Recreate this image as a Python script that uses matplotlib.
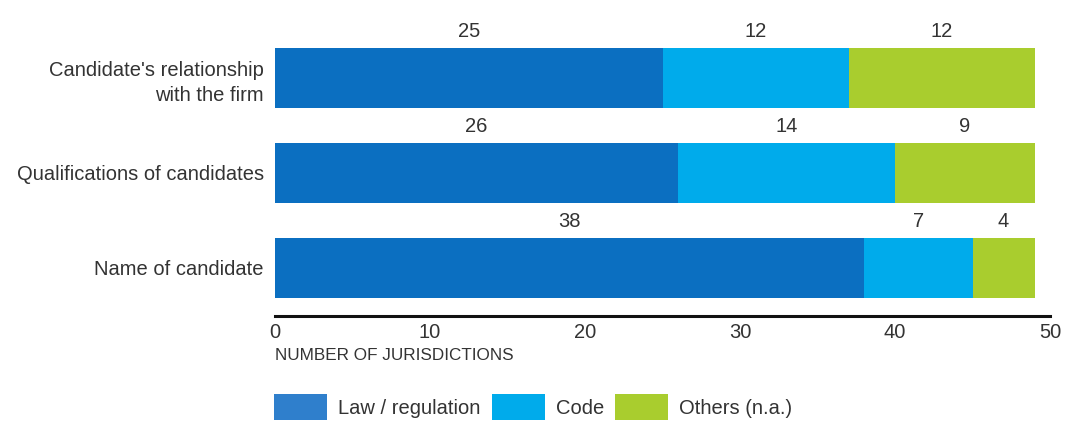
import matplotlib
matplotlib.use("Agg")
import matplotlib.pyplot as plt
from matplotlib.patches import Patch
import numpy as np

categories = ["Name of candidate", "Qualifications of candidates", "Candidate's relationship\nwith the firm"]
law = [38, 26, 25]
code = [7, 14, 12]
others = [4, 9, 12]
series_names = ["Law / regulation", "Code", "Others (n.a.)"]
colors = ["#0b6fc1", "#00abeb", "#a9cd2e"]
legend_colors = ["#2f7fcc", "#00abeb", "#a9cd2e"]
xticks = [0, 10, 20, 30, 40, 50]

plt.rcParams['font.family'] = ['Liberation Sans', 'DejaVu Sans']
text_color = "#333333"
fs = 14.5

fig = plt.figure(figsize=(10.67, 4.24), dpi=100)
ax = fig.add_axes([275/1067, 1-316/424, (1050-275)/1067, (316-30)/424])

y = np.arange(len(categories))
h = 0.63
left = np.zeros(len(categories))
for vals, col in zip([law, code, others], colors):
    vals = np.array(vals, dtype=float)
    ax.barh(y, vals, left=left, height=h, color=col, edgecolor="none")
    for yi, l, v in zip(y, left, vals):
        ax.text(l + v/2, yi + h/2 + 0.17, f"{int(v)}", ha="center", va="center",
                fontsize=fs, color=text_color)
    left += vals

ax.set_xlim(0, 50)
ax.set_ylim(-0.505, 2.5)
ax.set_yticks(y)
ax.set_yticklabels(categories, fontsize=fs, color=text_color, ha="right",
                   linespacing=1.45)
ax.set_xticks(xticks)
ax.set_xticklabels([str(t) for t in xticks], fontsize=fs, color=text_color)
ax.tick_params(axis="both", length=0)
ax.tick_params(axis="y", pad=8)
ax.tick_params(axis="x", pad=5)
for s in ["top", "right", "left"]:
    ax.spines[s].set_visible(False)
ax.spines["bottom"].set_linewidth(2.2)
ax.spines["bottom"].set_color("#111111")

ax.text(0, -0.505 - 0.41, "NUMBER OF JURISDICTIONS", transform=ax.transData,
        ha="left", va="center", fontsize=12.3, color=text_color, clip_on=False)

handles = [Patch(facecolor=c, edgecolor="none") for c in legend_colors]
fig.legend(handles, series_names, loc="center left",
           bbox_to_anchor=(268/1067, 1-407/424), ncol=3, frameon=False,
           fontsize=fs, handlelength=2.63, handleheight=1.6,
           handletextpad=0.55, columnspacing=0.55, labelcolor=text_color,
           borderaxespad=0, borderpad=0.3)

fig.savefig("out.png", dpi=100, facecolor="white")
